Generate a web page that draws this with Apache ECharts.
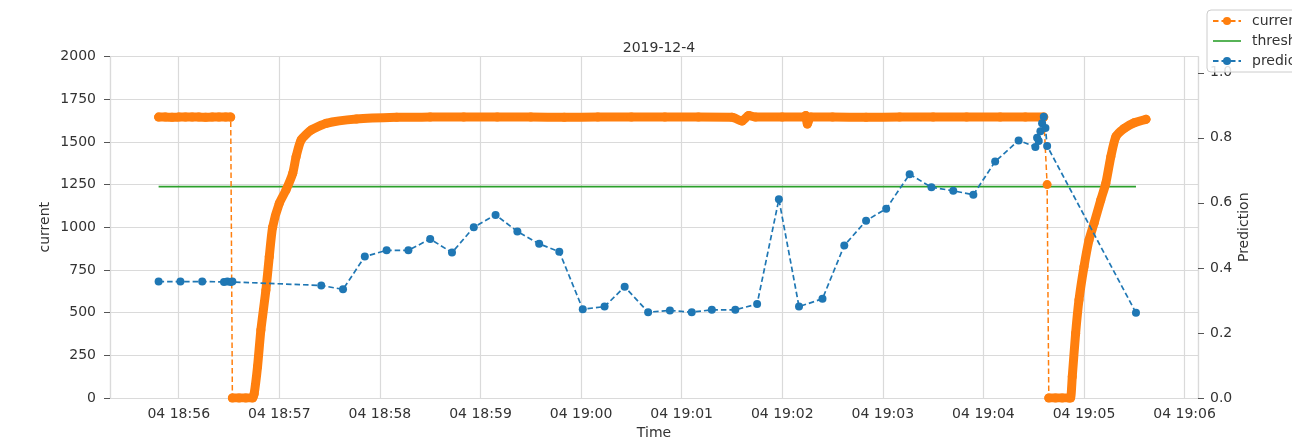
<!DOCTYPE html>
<html>
<head>
<meta charset="utf-8">
<title>2019-12-4</title>
<script src="https://cdn.jsdelivr.net/npm/echarts@6/dist/echarts.min.js"></script>
<style>
  html, body { margin: 0; padding: 0; background: #ffffff; }
  #chart { width: 1292px; height: 441px; }
</style>
</head>
<body>
<div id="chart"></div>
<script>
// ---- current (left axis): dense samples split into runs; a run ends where the signal drops ----
const currentRun1Times  = ['18:55:48','18:55:52','18:55:56','18:56:00','18:56:04','18:56:08','18:56:12','18:56:16','18:56:20','18:56:24','18:56:28','18:56:31'];
const currentRun1Values = [1645, 1645, 1644, 1645, 1646, 1645, 1645, 1644, 1645, 1645, 1646, 1645];

const currentRun2Times  = ['18:56:32','18:56:36','18:56:40','18:56:44','18:56:45','18:56:47','18:56:49','18:56:52','18:56:54','18:56:56',
                           '18:57:00','18:57:04','18:57:08','18:57:10','18:57:13','18:57:19','18:57:28','18:57:46','18:58:10','18:58:30',
                           '18:58:50','18:59:10','18:59:30','18:59:50','19:00:10','19:00:30','19:00:50','19:01:10','19:01:30','19:01:36',
                           '19:01:40','19:01:44','19:02:00','19:02:13','19:02:14','19:02:15','19:02:17','19:02:30','19:02:50','19:03:10',
                           '19:03:30','19:03:50','19:04:10','19:04:25','19:04:36'];
const currentRun2Values = [0, 0, 0, 0, 25, 183, 398, 632, 827, 1000,
                           1140, 1218, 1316, 1413, 1511, 1569, 1609, 1634, 1644, 1645,
                           1646, 1645, 1645, 1644, 1645, 1646, 1645, 1645, 1644, 1622,
                           1655, 1645, 1645, 1646, 1654, 1605, 1645, 1645, 1644, 1645,
                           1645, 1646, 1645, 1645, 1645];

const currentDropTimes  = ['19:04:38'];
const currentDropValues = [1250];

const currentRun3Times  = ['19:04:39','19:04:43','19:04:47','19:04:51','19:04:52','19:04:53','19:04:55','19:04:57','19:05:00','19:05:03',
                           '19:05:06','19:05:10','19:05:13','19:05:16','19:05:19','19:05:24','19:05:30','19:05:37'];
const currentRun3Values = [0, 0, 0, 0, 0, 125, 379, 574, 769, 925,
                           1023, 1160, 1257, 1413, 1530, 1579, 1612, 1632];

// ---- prediction (right axis) ----
const predictionTimes  = ['18:55:48','18:56:01','18:56:14','18:56:27','18:56:29','18:56:31','18:56:32','18:57:25','18:57:38','18:57:51',
                          '18:58:04','18:58:17','18:58:30','18:58:43','18:58:56','18:59:09','18:59:22','18:59:35','18:59:47','19:00:01',
                          '19:00:14','19:00:26','19:00:40','19:00:53','19:01:06','19:01:18','19:01:32','19:01:45','19:01:58','19:02:10',
                          '19:02:24','19:02:37','19:02:50','19:03:02','19:03:16','19:03:29','19:03:42','19:03:54','19:04:07','19:04:21',
                          '19:04:31','19:04:32','19:04:33','19:04:34','19:04:35','19:04:36','19:04:37','19:04:38','19:05:31'];
const predictionValues = [0.358, 0.358, 0.358, 0.357, 0.358, 0.357, 0.358, 0.346, 0.334, 0.435,
                          0.454, 0.454, 0.489, 0.447, 0.525, 0.563, 0.512, 0.474, 0.450, 0.273,
                          0.281, 0.342, 0.264, 0.269, 0.264, 0.271, 0.271, 0.289, 0.611, 0.281,
                          0.305, 0.469, 0.545, 0.582, 0.688, 0.648, 0.637, 0.625, 0.727, 0.792,
                          0.772, 0.800, 0.790, 0.820, 0.845, 0.865, 0.830, 0.775, 0.262];
const threshold = 0.65;

// ---- axes ----
const dayLabel = '04';
const axisStart = '18:55:19';
const axisEnd = '19:06:08';
const currentTicks = [0, 2000, 250];          // min, max, step
const predictionTickLabels = [0, 0.2, 0.4, 0.6, 0.8, 1.0];
const predictionMax = 1.05;

const ORANGE = '#ff7f0e', GREEN = '#2ca02c', BLUE = '#1f77b4';
const TEXT = '#333333', GRID = '#dadada', FONT = 'DejaVu Sans';

function toTime(hms) {
  const [h, m, s] = hms.split(':').map(Number);
  return new Date(2019, 11, 4, h, m, s).getTime();
}
function pairs(times, values) {
  return times.map((t, i) => [toTime(t), values[i]]);
}
function pad(n) { return String(n).padStart(2, '0'); }

const currentRuns = [
  pairs(currentRun1Times, currentRun1Values),
  pairs(currentRun2Times, currentRun2Values),
  pairs(currentRun3Times, currentRun3Values)
];
const currentAll = [].concat(
  pairs(currentRun1Times, currentRun1Values),
  pairs(currentRun2Times, currentRun2Values),
  pairs(currentDropTimes, currentDropValues),
  pairs(currentRun3Times, currentRun3Values)
);
const predictionData = pairs(predictionTimes, predictionValues);
const thresholdData = [
  [toTime(predictionTimes[0]), threshold],
  [toTime(predictionTimes[predictionTimes.length - 1]), threshold]
];

// Densely packed markers merge into a thick band; drawn as a wide round-capped stroke per run.
const bandSeries = currentRuns.map((run, i) => ({
  name: 'current band ' + i,
  type: 'line',
  xAxisIndex: 0, yAxisIndex: 0,
  data: run,
  showSymbol: false,
  silent: true,
  smooth: 0.2,
  z: 3,
  lineStyle: { color: ORANGE, width: 9, cap: 'round', join: 'round' },
  emphasis: { disabled: true },
  animation: false
}));

const chart = echarts.init(document.getElementById('chart'), null, { renderer: 'canvas' });

chart.setOption({
  backgroundColor: '#ffffff',
  animation: false,
  textStyle: { fontFamily: FONT, color: TEXT },
  title: {
    text: '2019-12-4',
    left: 654, top: 36,
    textAlign: 'center',
    textStyle: { fontFamily: FONT, fontSize: 14, fontWeight: 'normal', color: TEXT }
  },
  legend: {
    data: [
      'current',
      { name: 'threshold', icon: 'path://M0,0 L28,0 L28,1.6 L0,1.6 Z', itemStyle: { color: GREEN } },
      'prediction'
    ],
    orient: 'vertical',
    left: 1207, top: 10,
    padding: [4, 5, 4, 5],
    itemWidth: 28, itemHeight: 10, itemGap: 6,
    backgroundColor: 'rgba(255,255,255,0.85)',
    borderColor: '#cccccc', borderWidth: 1, borderRadius: 4,
    textStyle: { fontFamily: FONT, fontSize: 14, color: TEXT, padding: [0, 0, 0, 6] },
    selectedMode: false
  },
  grid: { left: 110, right: 94, top: 56.5, bottom: 43, containLabel: false, outerBoundsMode: 'none' },
  xAxis: {
    type: 'time',
    min: toTime(axisStart), max: toTime(axisEnd),
    minInterval: 60000, maxInterval: 60000,
    name: 'Time', nameLocation: 'middle', nameGap: 28, nameMoveOverlap: false,
    nameTextStyle: { fontFamily: FONT, fontSize: 14, color: TEXT },
    axisLine: { show: true, lineStyle: { color: GRID, width: 1.2 } },
    axisTick: { show: false },
    splitLine: { show: true, lineStyle: { color: GRID, width: 1.2 } },
    axisLabel: {
      fontFamily: FONT, fontSize: 14, color: TEXT, margin: 9,
      showMinLabel: false, showMaxLabel: false,
      formatter: v => { const d = new Date(v); return dayLabel + ' ' + pad(d.getHours()) + ':' + pad(d.getMinutes()); }
    }
  },
  yAxis: [
    {
      type: 'value',
      min: currentTicks[0], max: currentTicks[1], interval: currentTicks[2],
      name: 'current', nameLocation: 'middle', nameGap: 58, nameMoveOverlap: false,
      nameTextStyle: { fontFamily: FONT, fontSize: 14, color: TEXT },
      axisLine: { show: true, lineStyle: { color: GRID, width: 1.2 } },
      axisTick: { show: true, length: 6, lineStyle: { color: '#555555', width: 1 } },
      splitLine: { show: true, lineStyle: { color: GRID, width: 1.2 } },
      axisLabel: { fontFamily: FONT, fontSize: 14, color: TEXT, margin: 14, formatter: v => String(v) }
    },
    {
      type: 'value',
      min: 0, max: predictionMax,
      position: 'right',
      name: 'Prediction', nameLocation: 'middle', nameGap: 39, nameMoveOverlap: false,
      nameTextStyle: { fontFamily: FONT, fontSize: 14, color: TEXT },
      axisLine: { show: true, lineStyle: { color: GRID, width: 1.2 } },
      axisTick: { show: true, length: 6, lineStyle: { color: '#555555', width: 1 }, customValues: predictionTickLabels },
      splitLine: { show: false },
      axisLabel: {
        fontFamily: FONT, fontSize: 14, color: TEXT, margin: 12,
        customValues: predictionTickLabels,
        formatter: v => v.toFixed(1)
      }
    }
  ],
  series: [
    {
      name: 'threshold',
      type: 'line',
      xAxisIndex: 0, yAxisIndex: 1,
      data: thresholdData,
      symbol: 'none',
      z: 2,
      itemStyle: { color: GREEN },
      lineStyle: { color: GREEN, width: 1.6 },
      emphasis: { disabled: true }
    },
    ...bandSeries,
    {
      name: 'current',
      type: 'line',
      xAxisIndex: 0, yAxisIndex: 0,
      data: currentAll,
      symbol: 'circle', symbolSize: 9, showSymbol: true, showAllSymbol: true,
      z: 4,
      itemStyle: { color: ORANGE },
      lineStyle: { color: ORANGE, width: 1.5, type: [5.5, 3] },
      emphasis: { disabled: true }
    },
    {
      name: 'prediction',
      type: 'line',
      xAxisIndex: 0, yAxisIndex: 1,
      data: predictionData,
      symbol: 'circle', symbolSize: 8, showSymbol: true, showAllSymbol: true,
      z: 5,
      itemStyle: { color: BLUE },
      lineStyle: { color: BLUE, width: 1.7, type: [5.5, 3] },
      emphasis: { disabled: true }
    }
  ]
});
</script>
</body>
</html>
